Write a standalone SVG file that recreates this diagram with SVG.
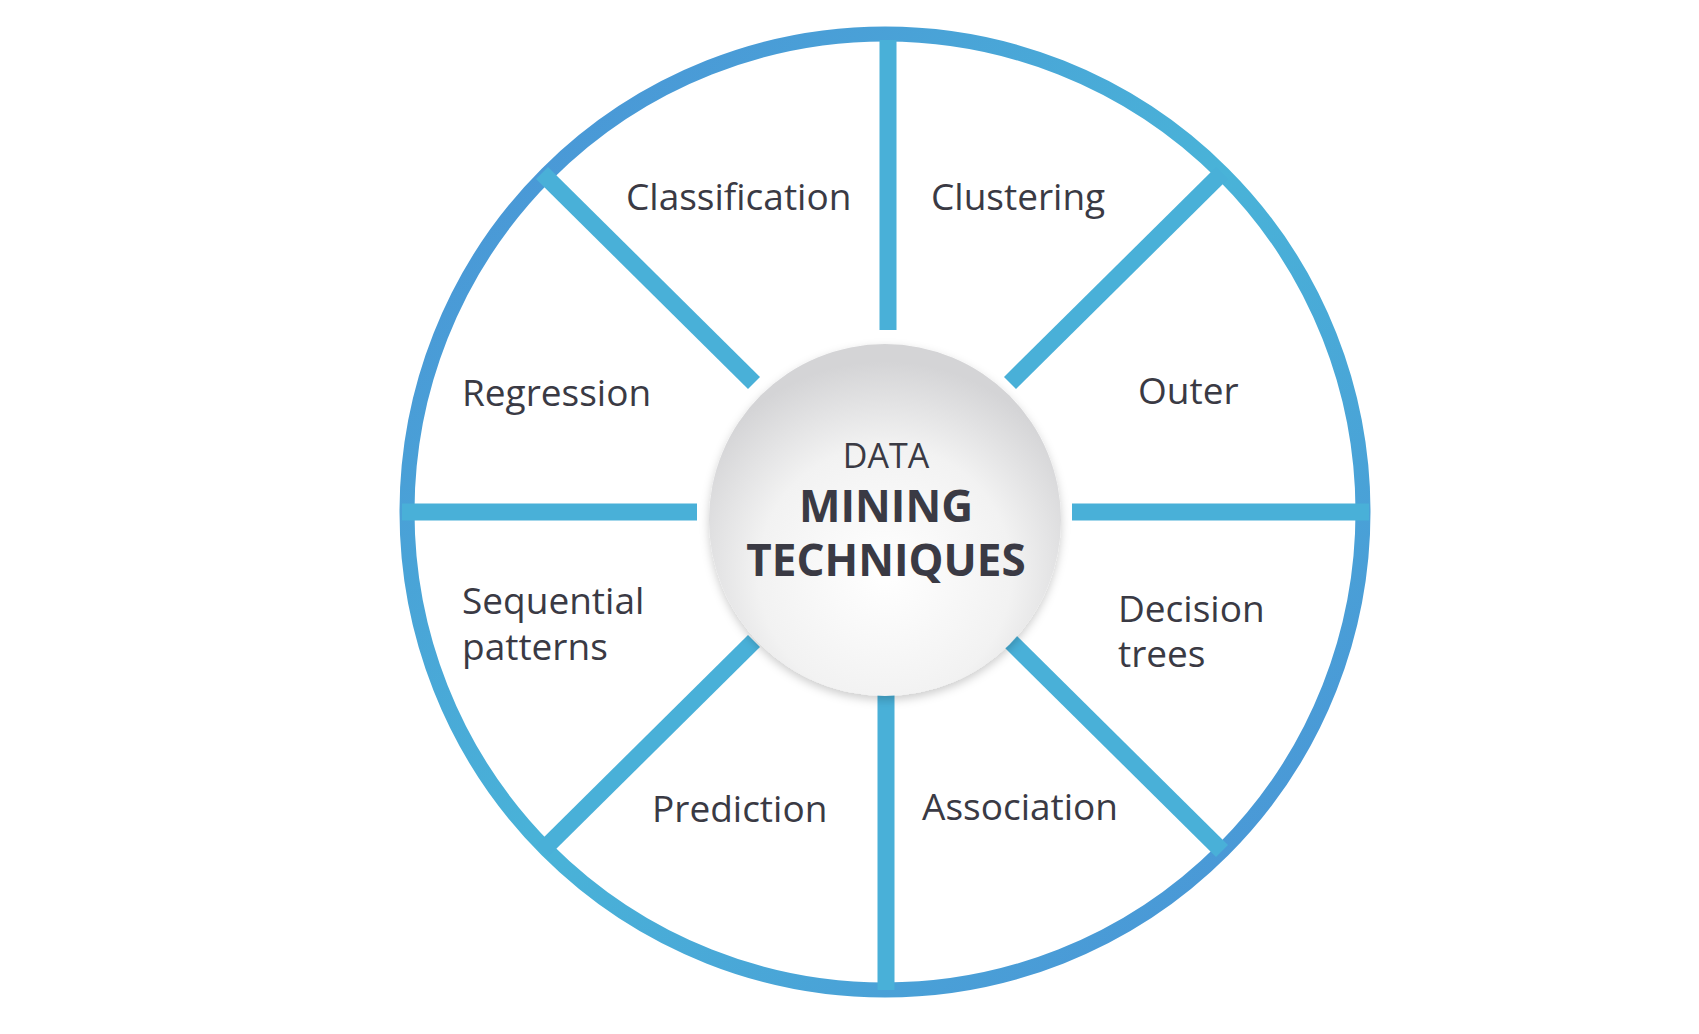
<svg xmlns="http://www.w3.org/2000/svg" width="1699" height="1034" viewBox="0 0 1699 1034">
<defs>
<linearGradient id="ring" x1="0" y1="0" x2="1" y2="1"><stop offset="0" stop-color="#4a8fd6"/><stop offset="0.5" stop-color="#49b3d8"/><stop offset="1" stop-color="#4a8fd6"/></linearGradient>
<radialGradient id="hub" cx="0.5" cy="0.65" r="0.6"><stop offset="0" stop-color="#ffffff"/><stop offset="0.6" stop-color="#f2f2f2"/><stop offset="1" stop-color="#d4d4d6"/></radialGradient>
<filter id="sh" x="-20%" y="-20%" width="140%" height="140%"><feDropShadow dx="0" dy="4" stdDeviation="5" flood-color="#000" flood-opacity="0.2"/></filter>
</defs>
<style>
.lbl{font-family:"Open Sans","Liberation Sans",sans-serif;font-size:37px;fill:#3a3a44}
.spoke{stroke:#49b0d8;stroke-width:17}
.c{font-family:"Open Sans","Liberation Sans",sans-serif;fill:#3a3a44;text-anchor:middle}
</style>
<rect width="1699" height="1034" fill="#fff"/>
<circle cx="885" cy="512" r="478" fill="#fff" stroke="url(#ring)" stroke-width="15"/>
<g id="connectors">
<line class="spoke" x1="888" y1="40" x2="888" y2="330"/>
<line class="spoke" x1="886" y1="694" x2="886" y2="990"/>
<line class="spoke" x1="402" y1="512" x2="697" y2="512"/>
<line class="spoke" x1="1072" y1="512" x2="1369" y2="512"/>
<line class="spoke" x1="542" y1="173" x2="754" y2="383"/>
<line class="spoke" x1="1222" y1="173" x2="1010" y2="383"/>
<line class="spoke" x1="542" y1="851" x2="754" y2="641"/>
<line class="spoke" x1="1222" y1="851" x2="1010" y2="641"/>
</g>
<g id="hub"><circle cx="885" cy="520" r="176" fill="url(#hub)" filter="url(#sh)"/>
<text class="c" x="886" y="468" font-size="34">DATA</text>
<text class="c" x="886" y="522" font-size="44" font-weight="bold">MINING</text>
<text class="c" x="886" y="576" font-size="44" font-weight="bold">TECHNIQUES</text></g>
<g id="classification"><text class="lbl" x="626" y="210">Classification</text></g>
<g id="clustering"><text class="lbl" x="931" y="210">Clustering</text></g>
<g id="regression"><text class="lbl" x="462" y="406">Regression</text></g>
<g id="outer"><text class="lbl" x="1138" y="404">Outer</text></g>
<g id="sequential"><text class="lbl" x="462" y="614">Sequential</text><text class="lbl" x="462" y="660">patterns</text></g>
<g id="decision"><text class="lbl" x="1118" y="622">Decision</text><text class="lbl" x="1118" y="667">trees</text></g>
<g id="prediction"><text class="lbl" x="652" y="822">Prediction</text></g>
<g id="association"><text class="lbl" x="922" y="820">Association</text></g>
</svg>
